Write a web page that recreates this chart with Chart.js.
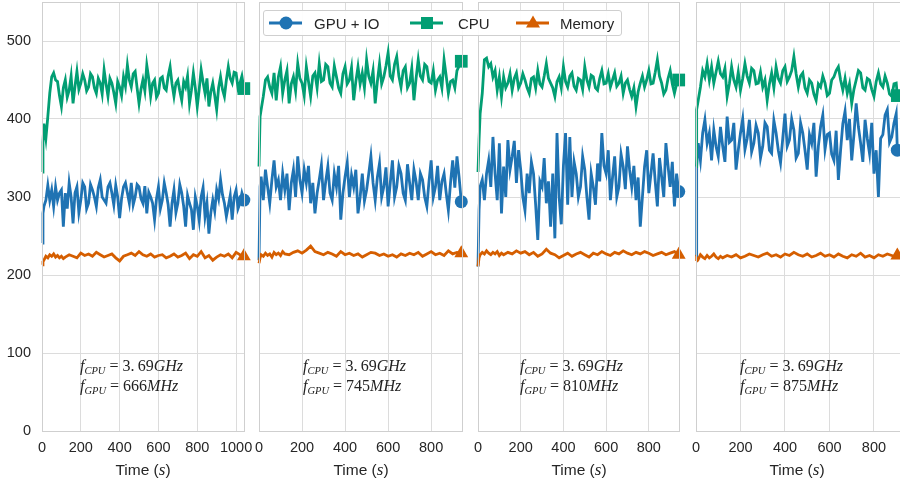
<!DOCTYPE html>
<html>
<head>
<meta charset="utf-8">
<script src="https://cdn.jsdelivr.net/npm/chart.js@4.4.1/dist/chart.umd.min.js"></script>
<style>
  body { margin: 0; background: #fff; width: 900px; height: 484px; overflow: hidden; position: relative;
         font-family: "Liberation Sans", Arial, sans-serif; }
  canvas { position: absolute; top: 0; }
  .xt { position: absolute; top: 460px; font-size: 15.5px; color: #262626; transform: translateX(-50%); white-space: nowrap; }
  .xt i { font-family: "Liberation Serif", serif; font-size: 17px; }
  .note { position: absolute; top: 356px; font-family: "Liberation Serif", "DejaVu Serif", serif; font-size: 16px;
          color: #222; line-height: 20px; white-space: nowrap; }
  .note sub { font-size: 10.5px; vertical-align: -3px; line-height: 0; }
  #legend { position: absolute; left: 263px; top: 10px; width: 357px; height: 24px; border: 1px solid #cfcfcf;
            border-radius: 3px; background: rgba(255,255,255,0.92); font-size: 15px; color: #262626; }
  #legend svg, #legend span { position: absolute; }
  #legend span { top: 4px; }
</style>
</head>
<body>
<canvas id="p1" width="253" height="484" style="left:0px"></canvas>
<canvas id="p2" width="226" height="484" style="left:245px"></canvas>
<canvas id="p3" width="224" height="484" style="left:464px"></canvas>
<canvas id="p4" width="222" height="484" style="left:682px"></canvas>

<div class="xt" style="left:143px">Time (<i>s</i>)</div>
<div class="xt" style="left:361px">Time (<i>s</i>)</div>
<div class="xt" style="left:579px">Time (<i>s</i>)</div>
<div class="xt" style="left:797px">Time (<i>s</i>)</div>

<div class="note" style="left:80px"><i>f</i><sub><i>CPU</i></sub> = 3.&#8201;69<i>GHz</i><br><i>f</i><sub><i>GPU</i></sub> = 666<i>MHz</i></div>
<div class="note" style="left:303px"><i>f</i><sub><i>CPU</i></sub> = 3.&#8201;69<i>GHz</i><br><i>f</i><sub><i>GPU</i></sub> = 745<i>MHz</i></div>
<div class="note" style="left:520px"><i>f</i><sub><i>CPU</i></sub> = 3.&#8201;69<i>GHz</i><br><i>f</i><sub><i>GPU</i></sub> = 810<i>MHz</i></div>
<div class="note" style="left:740px"><i>f</i><sub><i>CPU</i></sub> = 3.&#8201;69<i>GHz</i><br><i>f</i><sub><i>GPU</i></sub> = 875<i>MHz</i></div>

<div id="legend">
  <svg style="left:5px;top:0" width="34" height="24"><line x1="0" y1="12" x2="33" y2="12" stroke="#1f73b3" stroke-width="3"/><circle cx="17" cy="12" r="6.5" fill="#1f73b3"/></svg>
  <span style="left:50px">GPU + IO</span>
  <svg style="left:146px;top:0" width="34" height="24"><line x1="0" y1="12" x2="33" y2="12" stroke="#029e73" stroke-width="3"/><rect x="11" y="6" width="12" height="12" fill="#029e73"/></svg>
  <span style="left:194px">CPU</span>
  <svg style="left:252px;top:0" width="34" height="24"><line x1="0" y1="12" x2="33" y2="12" stroke="#d55e00" stroke-width="3"/><polygon points="17,4.5 24,16.5 10,16.5" fill="#d55e00"/></svg>
  <span style="left:296px">Memory</span>
</div>

<script>
// Datos (tiempo en s, valores en la escala del eje y)
const seriesNames = ["GPU + IO", "CPU", "Memory"];
const seriesColors = ["#1f73b3", "#029e73", "#d55e00"];

// Panel 1: f_GPU = 666MHz
const time1 = [0,5,10,20,30,40,50,60,70,80,90,100,110,120,
  130,140,150,160,170,180,190,200,210,220,230,240,250,260,270,280,290,300,310,320,
  330,340,350,360,370,380,390,400,410,420,430,440,450,460,470,480,490,500,510,520,
  530,540,550,560,570,580,590,600,610,620,630,640,650,660,670,680,690,700,710,720,
  730,740,750,760,770,780,790,800,810,820,830,840,850,860,870,880,890,900,910,920,
  930,940,950,960,970,980,990,1000,1010,1020,1030,1040];
const gpu1 = [241,279,288,296,315,296,309,288,313,296,305,309,262,305,
  285,318,300,266,305,313,280,296,318,313,
  285,292,316,309,300,288,312,322,300,296,
  292,313,318,305,290,315,300,273,298,313,
  318,305,292,318,290,300,316,313,298,292,
  314,279,306,300,292,271,298,313,285,296,
  318,305,290,262,292,309,280,292,316,305,
  288,262,302,292,284,258,300,288,270,300,
  312,275,292,253,280,296,282,309,298,322,
  303,292,275,288,302,271,300,309,285,292,
  305,296];
const cpu1 = [332,370,394,375,403,433,454,459,450,448,430,416,440,450,
  428,437,455,420,442,461,438,446,458,450,
  436,441,458,454,440,433,452,446,432,463,
  445,429,452,446,434,420,448,441,430,454,
  442,469,450,441,458,461,440,420,438,450,
  436,469,452,429,446,450,428,433,452,454,
  440,437,455,467,445,429,446,450,436,424,
  448,441,455,420,437,459,440,416,438,463,
  447,433,452,416,435,446,430,412,440,454,
  438,429,450,467,452,446,460,459,440,446,
  455,439];
const memTime1 = [0,5,10,20,30,40,50,60,70,80,90,100,110,120,140,160,180,200,220,240,260,280,300,320,340,360,380,400,420,440,460,480,500,520,540,560,580,600,620,640,660,680,700,720,740,760,780,800,820,840,860,880,900,920,940,960,980,1000,1020,1040];
const mem1 = [213,217,219,224,222,226,224,227,223,225,222,224,221,223,
  226,224,222,228,225,227,224,229,226,223,
  225,227,222,218,224,226,228,225,230,226,
  224,227,223,225,226,222,224,227,223,225,
  228,221,226,224,230,222,225,219,223,226,
  224,227,222,229,226,224];

// Panel 2: f_GPU = 745MHz
const time2 = [0,5,10,20,30,40,50,60,70,80,90,100,110,120,
  130,140,150,160,170,180,190,200,210,220,230,240,250,260,270,280,290,300,310,320,
  330,340,350,360,370,380,390,400,410,420,430,440,450,460,470,480,490,500,510,520,
  530,540,550,560,570,580,590,600,610,620,630,640,650,660,670,680,690,700,710,720,
  730,740,750,760,770,780,790,800,810,820,830,840,850,860,870,880,890,900,910,920,
  930,940];
const gpu2 = [219,313,326,296,335,313,292,322,347,313,322,296,330,309,
  330,283,318,335,300,352,322,305,335,318,
  340,292,318,279,305,322,341,296,320,339,
  305,296,330,313,340,271,305,326,344,300,
  328,313,335,279,300,330,295,309,330,352,
  318,296,325,343,300,313,338,288,318,347,
  300,313,340,330,305,296,342,318,296,335,
  320,296,330,322,300,288,320,347,300,313,
  340,296,320,330,305,283,318,347,312,352,
  325,294];
const cpu2 = [339,403,412,429,450,454,441,433,459,424,454,467,433,450,
  462,420,445,454,436,471,452,446,430,467,
  448,429,455,459,440,471,448,450,470,467,
  446,441,468,454,440,433,458,467,445,450,
  466,424,448,467,445,459,440,476,455,446,
  462,420,448,471,445,454,468,485,455,450,
  470,480,455,441,462,467,440,446,465,424,
  452,476,455,450,470,467,448,446,462,437,
  450,454,440,476,455,433,448,450,440,462,
  468,474];
const memTime2 = [0,5,10,20,30,40,50,60,70,80,90,100,110,120,140,160,180,200,220,240,260,280,300,320,340,360,380,400,420,440,460,480,500,520,540,560,580,600,620,640,660,680,700,720,740,760,780,800,820,840,860,880,900,920,940];
const mem2 = [215,222,226,224,228,225,227,223,229,226,228,225,230,227,
  226,229,231,228,232,237,230,228,226,229,
  227,224,230,226,228,225,227,223,226,229,
  228,225,227,224,226,223,227,225,228,226,
  229,224,227,230,226,228,225,231,227,229,
  228];

// Panel 3: f_GPU = 810MHz
const time3 = [0,5,10,20,30,40,50,60,70,80,90,100,110,120,
  130,140,150,160,170,180,190,200,210,220,230,240,250,260,270,280,290,300,310,320,
  330,340,350,360,370,380,390,400,410,420,430,440,450,460,470,480,490,500,510,520,
  530,540,550,560,570,580,590,600,610,620,630,640,650,660,670,680,690,700,710,720,
  730,740,750,760,770,780,790,800,810,820,830,840,850,860,870,880,890,900,910,920,
  930,940];
const gpu3 = [211,283,313,322,296,330,347,313,377,330,296,369,279,339,
  300,373,335,352,372,318,360,335,300,283,
  330,305,345,330,290,245,320,313,350,292,
  320,262,330,247,382,300,265,340,382,290,
  377,300,345,330,300,313,352,335,300,271,
  330,313,290,343,320,382,340,330,360,296,
  325,352,300,313,355,339,310,365,335,313,
  340,296,325,262,300,339,360,305,330,356,
  320,288,350,326,300,369,340,313,345,288,
  330,307];
const cpu3 = [332,373,407,433,476,478,467,471,454,462,437,454,429,454,
  440,446,458,437,452,459,440,446,458,450,
  440,433,452,454,440,462,445,441,455,471,
  452,446,440,429,448,454,440,467,448,441,
  455,459,442,437,452,450,438,467,450,441,
  456,454,440,437,452,462,445,446,458,441,
  450,459,442,446,455,433,446,450,438,429,
  440,416,435,446,455,441,450,462,445,446,
  460,476,455,446,432,437,452,462,445,433,
  445,450];
const memTime3 = [0,5,10,20,30,40,50,60,70,80,90,100,110,120,140,160,180,200,220,240,260,280,300,320,340,360,380,400,420,440,460,480,500,520,540,560,580,600,620,640,660,680,700,720,740,760,780,800,820,840,860,880,900,920,940];
const mem3 = [211,222,226,229,227,231,228,226,229,227,230,225,228,226,
  229,227,231,228,230,226,229,224,227,233,
  228,226,222,225,228,224,227,229,226,223,
  228,226,230,227,225,229,227,231,228,226,
  229,227,230,228,225,227,229,226,228,230,
  226];

// Panel 4: f_GPU = 875MHz
const time4 = [0,3,10,20,30,40,50,60,70,80,90,100,110,120,
  130,140,150,160,170,180,190,200,210,220,230,240,250,260,270,280,290,300,310,320,
  330,340,350,360,370,380,390,400,410,420,430,440,450,460,470,480,490,500,510,520,
  530,540,550,560,570,580,590,600,610,620,630,640,650,660,670,680,690,700,710,720,
  730,740,750,760,770,780,790,800,810,820,830,840,850,860,870,880,890,900,
  905];
const gpu4 = [224,339,369,347,382,399,369,382,347,386,365,352,390,365,
  345,403,370,373,395,335,360,382,400,361,
  375,399,358,369,392,382,350,365,395,390,
  360,356,398,382,360,344,375,407,365,373,
  400,386,350,356,395,382,360,335,380,369,
  395,326,365,390,405,361,380,382,355,347,
  385,322,360,394,410,373,400,347,380,420,
  390,369,345,399,375,356,395,330,360,300,
  375,380,405,412,370,377,395,407,
  360];
const cpu4 = [339,412,424,441,462,454,471,450,467,446,460,474,458,454,
  465,429,445,467,450,441,460,437,452,471,
  455,446,465,462,445,446,460,441,450,424,
  445,459,440,467,452,446,462,467,448,454,
  462,480,458,441,455,459,440,433,450,446,
  432,424,445,441,455,446,430,433,450,454,
  462,467,450,437,452,433,445,420,438,450,
  462,459,440,437,452,450,438,429,448,459,
  445,441,455,446,432,429,445,446,
  430];
const memTime4 = [0,3,10,20,30,40,50,60,70,80,90,100,110,120,140,160,180,200,220,240,260,280,300,320,340,360,380,400,420,440,460,480,500,520,540,560,580,600,620,640,660,680,700,720,740,760,780,800,820,840,860,880,900,905];
const mem4 = [218,222,220,226,223,221,225,222,224,227,223,221,224,222,
  225,223,226,222,224,227,225,223,226,228,
  224,226,223,227,225,229,226,224,227,223,
  225,228,224,226,223,227,224,222,226,224,
  228,223,225,222,226,224,227,225,223,
  225];

const xMax = [1046, 948, 946, 935];
const yMax = 550;

Chart.defaults.font.family = "'Liberation Sans', Arial, sans-serif";
Chart.defaults.color = "#262626";

function toPoints(t, v) {
  return t.map((x, i) => ({ x: x, y: v[i] }));
}

// marco gris alrededor de cada panel
const framePlugin = {
  id: "frame",
  afterDatasetsDraw(chart) {
    const a = chart.chartArea, c = chart.ctx;
    c.save();
    c.strokeStyle = "#cfcfcf";
    c.lineWidth = 1;
    c.strokeRect(a.left + 0.5, a.top + 0.5, a.right - a.left - 1, a.bottom - a.top);
    c.restore();
  }
};

const markerStyle = ["circle", "rect", "triangle"];
const markerSize = [6.5, 9, 8];

function makePanel(id, yWidth, padRight, max, t, gpu, cpu, memT, mem, showY) {
  const times = [t, t, memT];
  const values = [gpu, cpu, mem];
  const datasets = values.map((v, k) => ({
    label: seriesNames[k],
    data: toPoints(times[k], v),
    borderColor: seriesColors[k],
    backgroundColor: seriesColors[k],
    borderWidth: 2.8,
    tension: 0,
    clip: false,
    order: 3 - k,
    pointStyle: markerStyle[k],
    pointBorderWidth: 0,
    pointRadius: (ctx) => (ctx.dataIndex === v.length - 1 ? markerSize[k] : 0),
    pointHoverRadius: 0
  }));

  new Chart(document.getElementById(id), {
    type: "line",
    data: { datasets: datasets },
    plugins: [framePlugin],
    options: {
      responsive: false,
      animation: false,
      devicePixelRatio: 1,
      layout: { autoPadding: false, padding: { top: 2, right: padRight, left: 0, bottom: 0 } },
      plugins: { legend: { display: false }, tooltip: { enabled: false } },
      scales: {
        x: {
          type: "linear",
          min: 0,
          max: max,
          border: { display: false },
          grid: { color: "#dcdcdc", drawTicks: false },
          ticks: { stepSize: 200, includeBounds: false, padding: 8, font: { size: 14.5 }, maxRotation: 0,
                   callback: (v) => String(v) },
          afterFit: (s) => { s.height = 53; s.paddingLeft = 0; s.paddingRight = 0; }
        },
        y: {
          min: 0,
          max: yMax,
          border: { display: false },
          grid: { color: "#dcdcdc", drawTicks: false },
          ticks: { stepSize: 100, includeBounds: false, padding: 11, font: { size: 14.5, lineHeight: 0.2 }, display: showY },
          afterFit: (s) => { s.width = yWidth; s.paddingTop = 0; s.paddingBottom = 0; }
        }
      }
    }
  });
}

makePanel("p1", 42, 8, xMax[0], time1, gpu1, cpu1, memTime1, mem1, true);
makePanel("p2", 14, 8, xMax[1], time2, gpu2, cpu2, memTime2, mem2, false);
makePanel("p3", 14, 8, xMax[2], time3, gpu3, cpu3, memTime3, mem3, false);
makePanel("p4", 14, 0, xMax[3], time4, gpu4, cpu4, memTime4, mem4, false);
</script>
</body>
</html>
